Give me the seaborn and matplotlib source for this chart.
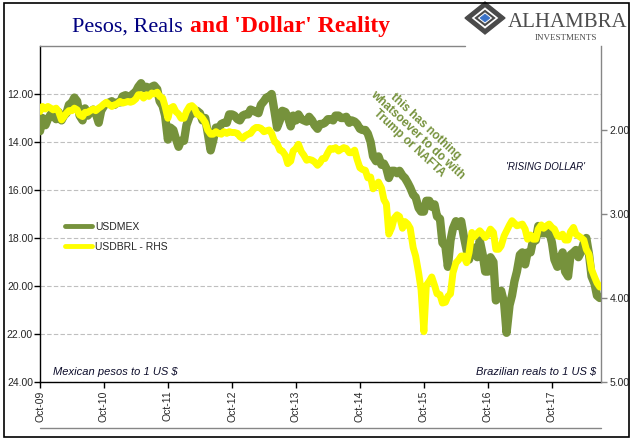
import matplotlib
matplotlib.use('Agg')
import matplotlib.pyplot as plt
from matplotlib.lines import Line2D
from matplotlib.patches import Polygon, Rectangle
import seaborn as sns
import pandas as pd

# semi-monthly readings (1st and 15th of each month)
mex_2009 = [13.55, 13.0, 13.3, 13.05, 12.85, 12.9]
mex_2010 = [13.05, 12.75, 13.1, 12.9, 12.8, 12.45, 12.35, 12.15, 12.3, 12.9, 13.1, 12.6,
            12.9, 12.75, 12.65, 12.8, 13.2, 12.7, 12.5, 12.4, 12.35, 12.3, 12.45, 12.35]
mex_2011 = [12.35, 12.1, 12.05, 12.1, 12.1, 12.0, 11.9, 11.7, 11.55, 11.75, 11.7, 11.85,
            11.7, 11.65, 11.8, 12.3, 12.5, 12.9, 13.9, 13.4, 13.5, 13.85, 14.2, 13.95]
mex_2012 = [13.95, 13.3, 12.95, 12.75, 12.8, 12.7, 12.8, 13.1, 13.0, 13.6, 14.35, 13.95,
            13.4, 13.45, 13.25, 13.2, 13.2, 12.85, 12.85, 12.9, 13.05, 13.1, 12.9, 12.85]
mex_2013 = [12.85, 12.65, 12.7, 12.75, 12.8, 12.45, 12.3, 12.15, 12.1, 12.0, 12.75, 13.4,
            13.1, 12.7, 12.75, 12.95, 13.35, 12.9, 13.1, 12.85, 13.05, 13.1, 13.15, 12.95]
mex_2014 = [13.1, 13.3, 13.45, 13.25, 13.25, 13.2, 13.05, 13.05, 13.1, 12.9, 12.9, 13.0,
            13.0, 12.95, 13.2, 13.1, 13.15, 13.25, 13.45, 13.5, 13.5, 13.65, 14.0, 14.6]
mex_2015 = [14.8, 14.6, 14.95, 14.9, 15.1, 15.5, 15.2, 15.2, 15.3, 15.2, 15.4, 15.5,
            15.7, 15.9, 16.2, 16.3, 16.75, 16.9, 16.9, 16.45, 16.45, 16.7, 16.6, 17.1]
mex_2016 = [17.2, 18.2, 18.35, 19.2, 18.1, 17.6, 17.3, 17.5, 17.3, 17.9, 18.5, 18.9,
            18.4, 18.4, 18.8, 18.1, 18.7, 19.4, 19.4, 18.8, 19.0, 20.6, 20.4, 20.2]
mex_2017 = [20.7, 21.95, 20.8, 20.4, 19.8, 19.4, 18.7, 18.6, 19.1, 18.6, 18.6, 18.1,
            18.1, 17.5, 17.8, 17.8, 17.8, 17.7, 18.2, 18.9, 19.2, 18.9, 18.6, 19.4]
mex_2018 = [19.6, 18.7, 18.6, 18.5, 18.8, 18.6, 18.2, 18.0, 18.7, 19.6, 19.9, 20.4, 20.5]

brl_2009 = [1.78, 1.72, 1.75, 1.72, 1.74, 1.76]
brl_2010 = [1.74, 1.78, 1.88, 1.84, 1.80, 1.77, 1.77, 1.74, 1.76, 1.82, 1.84, 1.79,
            1.79, 1.77, 1.75, 1.77, 1.74, 1.72, 1.69, 1.67, 1.70, 1.72, 1.70, 1.69]
brl_2011 = [1.66, 1.68, 1.67, 1.66, 1.67, 1.66, 1.63, 1.58, 1.58, 1.62, 1.58, 1.60,
            1.56, 1.57, 1.55, 1.60, 1.62, 1.72, 1.86, 1.74, 1.72, 1.78, 1.81, 1.86]
brl_2012 = [1.86, 1.78, 1.72, 1.71, 1.74, 1.81, 1.83, 1.86, 1.91, 2.00, 2.05, 2.05,
            2.02, 2.04, 2.05, 2.02, 2.04, 2.02, 2.03, 2.03, 2.04, 2.08, 2.10, 2.07]
brl_2013 = [2.05, 2.04, 1.99, 1.97, 1.97, 1.98, 2.02, 2.01, 2.00, 2.04, 2.14, 2.16,
            2.24, 2.25, 2.30, 2.40, 2.37, 2.25, 2.22, 2.17, 2.26, 2.30, 2.36, 2.35]
brl_2014 = [2.36, 2.38, 2.42, 2.39, 2.34, 2.34, 2.27, 2.22, 2.23, 2.21, 2.25, 2.23,
            2.21, 2.22, 2.27, 2.27, 2.24, 2.35, 2.45, 2.47, 2.48, 2.57, 2.56, 2.70]
brl_2015 = [2.66, 2.62, 2.69, 2.83, 2.88, 3.24, 3.16, 3.05, 3.01, 3.03, 3.17, 3.09,
            3.12, 3.17, 3.40, 3.50, 3.70, 3.90, 4.40, 3.85, 3.80, 3.75, 3.85, 3.95]
brl_2016 = [3.96, 4.06, 4.05, 3.98, 3.95, 3.70, 3.58, 3.55, 3.50, 3.50, 3.58, 3.46,
            3.22, 3.27, 3.23, 3.20, 3.24, 3.28, 3.24, 3.18, 3.22, 3.42, 3.42, 3.38]
brl_2017 = [3.26, 3.20, 3.13, 3.08, 3.11, 3.14, 3.13, 3.12, 3.18, 3.30, 3.25, 3.30,
            3.30, 3.18, 3.13, 3.17, 3.14, 3.12, 3.16, 3.18, 3.26, 3.27, 3.24, 3.31]
brl_2018 = [3.31, 3.21, 3.16, 3.24, 3.26, 3.28, 3.31, 3.42, 3.48, 3.66, 3.75, 3.82, 3.87]

usdmex = (mex_2009 + mex_2010 + mex_2011 + mex_2012 + mex_2013 + mex_2014
          + mex_2015 + mex_2016 + mex_2017 + mex_2018)
usdbrl = (brl_2009 + brl_2010 + brl_2011 + brl_2012 + brl_2013 + brl_2014
          + brl_2015 + brl_2016 + brl_2017 + brl_2018)

left_ticks = [12, 14, 16, 18, 20, 22, 24]
right_ticks = [2, 3, 4, 5]
year_ticks = pd.date_range('2009-10-01', '2017-10-01', freq='12MS')

df = pd.DataFrame({'date': pd.date_range('2009-10-01', periods=len(usdmex), freq='SMS'),
                   'USDMEX': usdmex, 'USDBRL': usdbrl})

GREEN = '#76923C'
YELLOW = '#FFFF00'
GRAY = '#868686'

sns.set_theme(style='white')
plt.rcParams['font.family'] = ['Liberation Sans', 'DejaVu Sans']

W, H = 641, 441
fig = plt.figure(figsize=(W / 100, H / 100), dpi=100)
fig.patch.set_facecolor('white')
ax = fig.add_axes([40 / W, 1 - 382 / H, (601 - 40) / W, (382 - 46) / H])

sns.lineplot(data=df, x='date', y='USDMEX', ax=ax, color=GREEN, linewidth=6,
             solid_capstyle='round', solid_joinstyle='round', zorder=3)
ax2 = ax.twinx()
sns.lineplot(data=df, x='date', y='USDBRL', ax=ax2, color=YELLOW, linewidth=5,
             solid_capstyle='round', solid_joinstyle='round', zorder=3)

ax.set_xlim(pd.Timestamp('2009-10-01'), pd.Timestamp('2018-07-08'))
ax.set_ylim(24, 10)
ax2.set_ylim(5, 1)
ax.set_xlabel('')
ax.set_ylabel('')
ax2.set_ylabel('')

ax.set_yticks(left_ticks)
ax.set_yticklabels(['%.2f' % v for v in left_ticks])
ax2.set_yticks(right_ticks)
ax2.set_yticklabels(['%.2f' % v for v in right_ticks])
ax.set_xticks(year_ticks)
ax.set_xticklabels([d.strftime('%b-%y') for d in year_ticks], rotation=90)

ax.yaxis.grid(True, color='#BFBFBF', linestyle=(0, (4, 2)), linewidth=0.8)
ax.xaxis.grid(False)
ax.set_axisbelow(True)

for s in ['top', 'right']:
    ax.spines[s].set_visible(False)
for s in ['left', 'bottom']:
    ax.spines[s].set_color('black')
    ax.spines[s].set_linewidth(1)
for s in ['top', 'left', 'bottom']:
    ax2.spines[s].set_visible(False)
ax2.spines['right'].set_color(GRAY)
ax2.spines['right'].set_linewidth(1)

ax.tick_params(axis='y', direction='out', length=4, width=1, color='black',
               labelsize=7.5, pad=1, left=True)
ax.tick_params(axis='x', direction='out', length=4, width=1, color='black',
               labelsize=7.5, pad=2, bottom=True)
ax2.tick_params(axis='y', direction='out', length=4, width=1, color=GRAY,
                labelsize=7.5, pad=2, right=True)

handles = [Line2D([], [], color=GREEN, lw=3.5), Line2D([], [], color=YELLOW, lw=3.5)]
ax2.legend(handles, ['USDMEX', 'USDBRL - RHS'], loc='upper left',
           bbox_to_anchor=((65 - 40) / 561, (382 - 222) / 336), frameon=False,
           fontsize=7.5, handlelength=2.6, handletextpad=0.3, labelspacing=0.95,
           borderpad=0, borderaxespad=0)

# annotations
def px(x, y):
    return x / W, 1 - y / H

fig.text(*px(417, 135), 'this has nothing\nwhatsoever to do with\nTrump or NAFTA',
         color=GREEN, fontsize=8.5, fontweight='bold', rotation=-43,
         rotation_mode='anchor', ha='center', va='center', multialignment='center',
         linespacing=1.0)
fig.text(*px(545, 167), "'RISING DOLLAR'", style='italic', fontsize=7,
         color='#0d0d2b', ha='center', va='center')
fig.text(*px(53, 375), r'Mexican pesos to 1 US \$', style='italic', fontsize=8,
         color='#0d0d2b', ha='left', va='baseline')
fig.text(*px(596, 375), r'Brazilian reals to 1 US \$', style='italic', fontsize=8,
         color='#0d0d2b', ha='right', va='baseline')

# title in two colours
t1 = fig.text(*px(72, 32), 'Pesos, Reals', color='#000080', fontsize=16,
              family='Liberation Serif', va='baseline')
fig.canvas.draw()
bb = t1.get_window_extent()
fig.text(bb.x1 / W + 7 / W, 1 - 32 / H, "and 'Dollar' Reality", color='#FF0000',
         fontsize=17, fontweight='bold', family='Liberation Serif', va='baseline')

# logo
fig.add_artist(Polygon([px(465, 18), px(485, 2), px(505, 18), px(485, 34)],
                       closed=True, fc='#4a4a4a', ec='#4a4a4a', lw=1,
                       transform=fig.transFigure))
fig.add_artist(Polygon([px(470, 18), px(485, 6), px(500, 18), px(485, 30)],
                       closed=True, fc='white', ec='#4a4a4a', lw=1.5,
                       transform=fig.transFigure))
fig.add_artist(Polygon([px(476, 18), px(485, 11), px(494, 18), px(485, 25)],
                       closed=True, fc='none', ec='#4a4a4a', lw=1.5,
                       transform=fig.transFigure))
fig.add_artist(Polygon([px(480, 18), px(485, 14), px(490, 18), px(485, 22)],
                       closed=True, fc='#3a72c8', ec='#3a72c8', lw=0.5,
                       transform=fig.transFigure))
fig.text(*px(508, 27), 'ALHAMBRA', family='Liberation Serif', fontsize=15,
         color='#4d4d4d', va='baseline')
fig.text(*px(566, 40), 'INVESTMENTS', family='Liberation Serif', fontsize=6.5,
         color='#4d4d4d', va='baseline', ha='center')

# plot area border bits and outer frame
fig.add_artist(Line2D([40 / W, 465 / W], [1 - 46 / H] * 2, color=GRAY, lw=1))
fig.add_artist(Line2D([40 / W, 601 / W], [1 - 428 / H] * 2, color=GRAY, lw=1))
fig.add_artist(Rectangle((4 / W, 1 - 437 / H), 625 / W, 434 / H, fill=False,
                         ec='black', lw=1.2, transform=fig.transFigure))

fig.savefig('out.png', dpi=100)
